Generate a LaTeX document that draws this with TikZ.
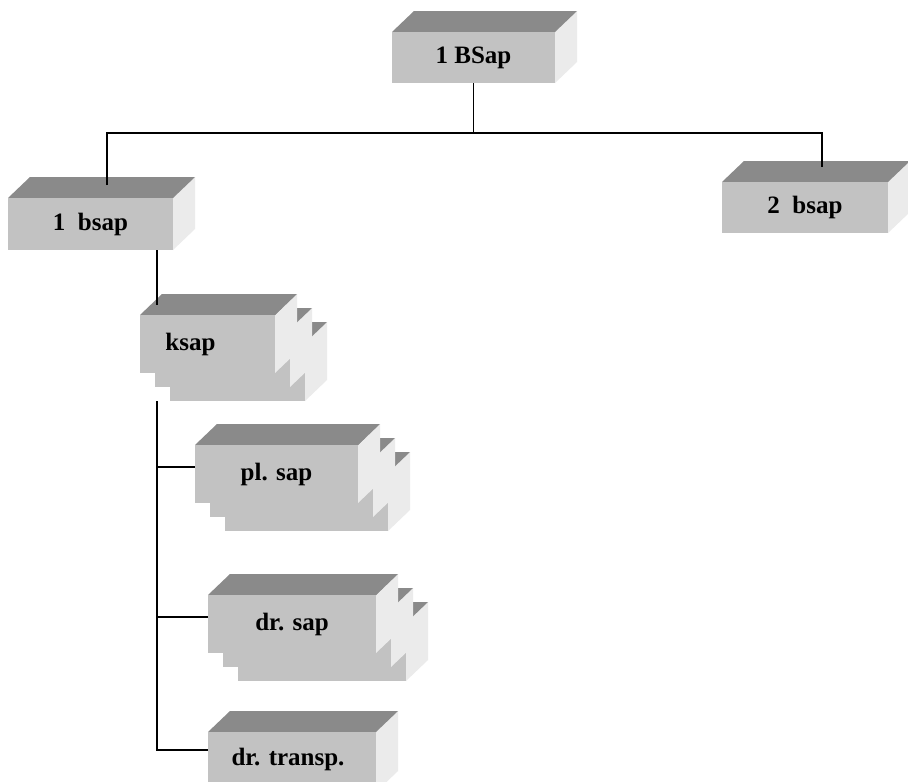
\documentclass[tikz,border=0pt]{standalone}
\usepackage{fontspec}
\setmainfont{Liberation Serif}
\tikzset{
  frontc/.style={fill=black!24},
  topc/.style={fill=black!46},
  sidec/.style={fill=black!8},
  frontbox/.style={frontc, inner sep=0pt, outer sep=0pt, font=\fontsize{25}{28}\selectfont\bfseries},
  lbl/.style={inner sep=0pt, font=\fontsize{25}{28}\selectfont\bfseries},
  conn/.style={draw=black, line width=1.1pt}
}
% #1 name, #2 x left, #3 y top, #4 width, #5 height, #6 text
\newcommand\cubebox[6]{%
  \fill[sidec] (#2+#4,#3) -- ++(22,-21) -- ++(0,#5) -- ++(-22,21) -- cycle;
  \fill[topc] (#2,#3) -- ++(22,-21) -- ++(#4,0) -- ++(-22,21) -- cycle;
  \node[frontbox, minimum width=#4pt, minimum height=#5pt, anchor=north west] (#1) at (#2,#3) {#6};
}
\newcommand\stackbox[6]{%
  \cubebox{#1c}{#2+30}{#3+28}{#4}{#5}{}
  \cubebox{#1b}{#2+15}{#3+14}{#4}{#5}{}
  \cubebox{#1}{#2}{#3}{#4}{#5}{#6}
}
\begin{document}
\begin{tikzpicture}[x=1pt,y=-1pt]
\useasboundingbox (0,0) rectangle (908,782);
\clip (0,0) rectangle (908,782);
\fill[white] (0,0) rectangle (908,782);

% boxes
\cubebox{B}{392}{32}{163}{51}{1 BSap}
\cubebox{b1}{8}{198}{165}{52}{1~~bsap}
\cubebox{b2}{722}{182}{166}{51}{2~~bsap}
\stackbox{k}{140}{315}{135}{58}{}
\node[lbl] (ktext) at ([xshift=-17pt]k.center) {ksap};
\stackbox{pl}{195}{445}{163}{58}{pl. sap}
\stackbox{ds}{208}{595}{168}{58}{dr. sap}
\cubebox{dt}{208}{732}{168}{60}{}
\node[lbl] (dttext) at ([xshift=-4pt,yshift=3pt]dt.center) {dr. transp.};

% connectors
\coordinate (j1) at (107,133);
\coordinate (j2) at (822,133);
\coordinate (b1in) at (107,185);
\coordinate (b2in) at (822,167);
\coordinate (kin) at (157,305);
\coordinate (kout) at (157,401);
\coordinate (dtin) at (208,750);
\draw[conn] (B.south) -- (B.south |- j1);
\draw[conn] (b1in) -- (j1) -- (j2) -- (b2in);
\draw[conn] (kin |- b1.south) -- (kin);
\draw[conn] (kout) -- (kout |- dtin) -- (dtin);
\draw[conn] ([yshift=7pt]pl.west -| kout) -- ([yshift=7pt]pl.west);
\draw[conn] ([yshift=7pt]ds.west -| kout) -- ([yshift=7pt]ds.west);
\end{tikzpicture}
\end{document}
